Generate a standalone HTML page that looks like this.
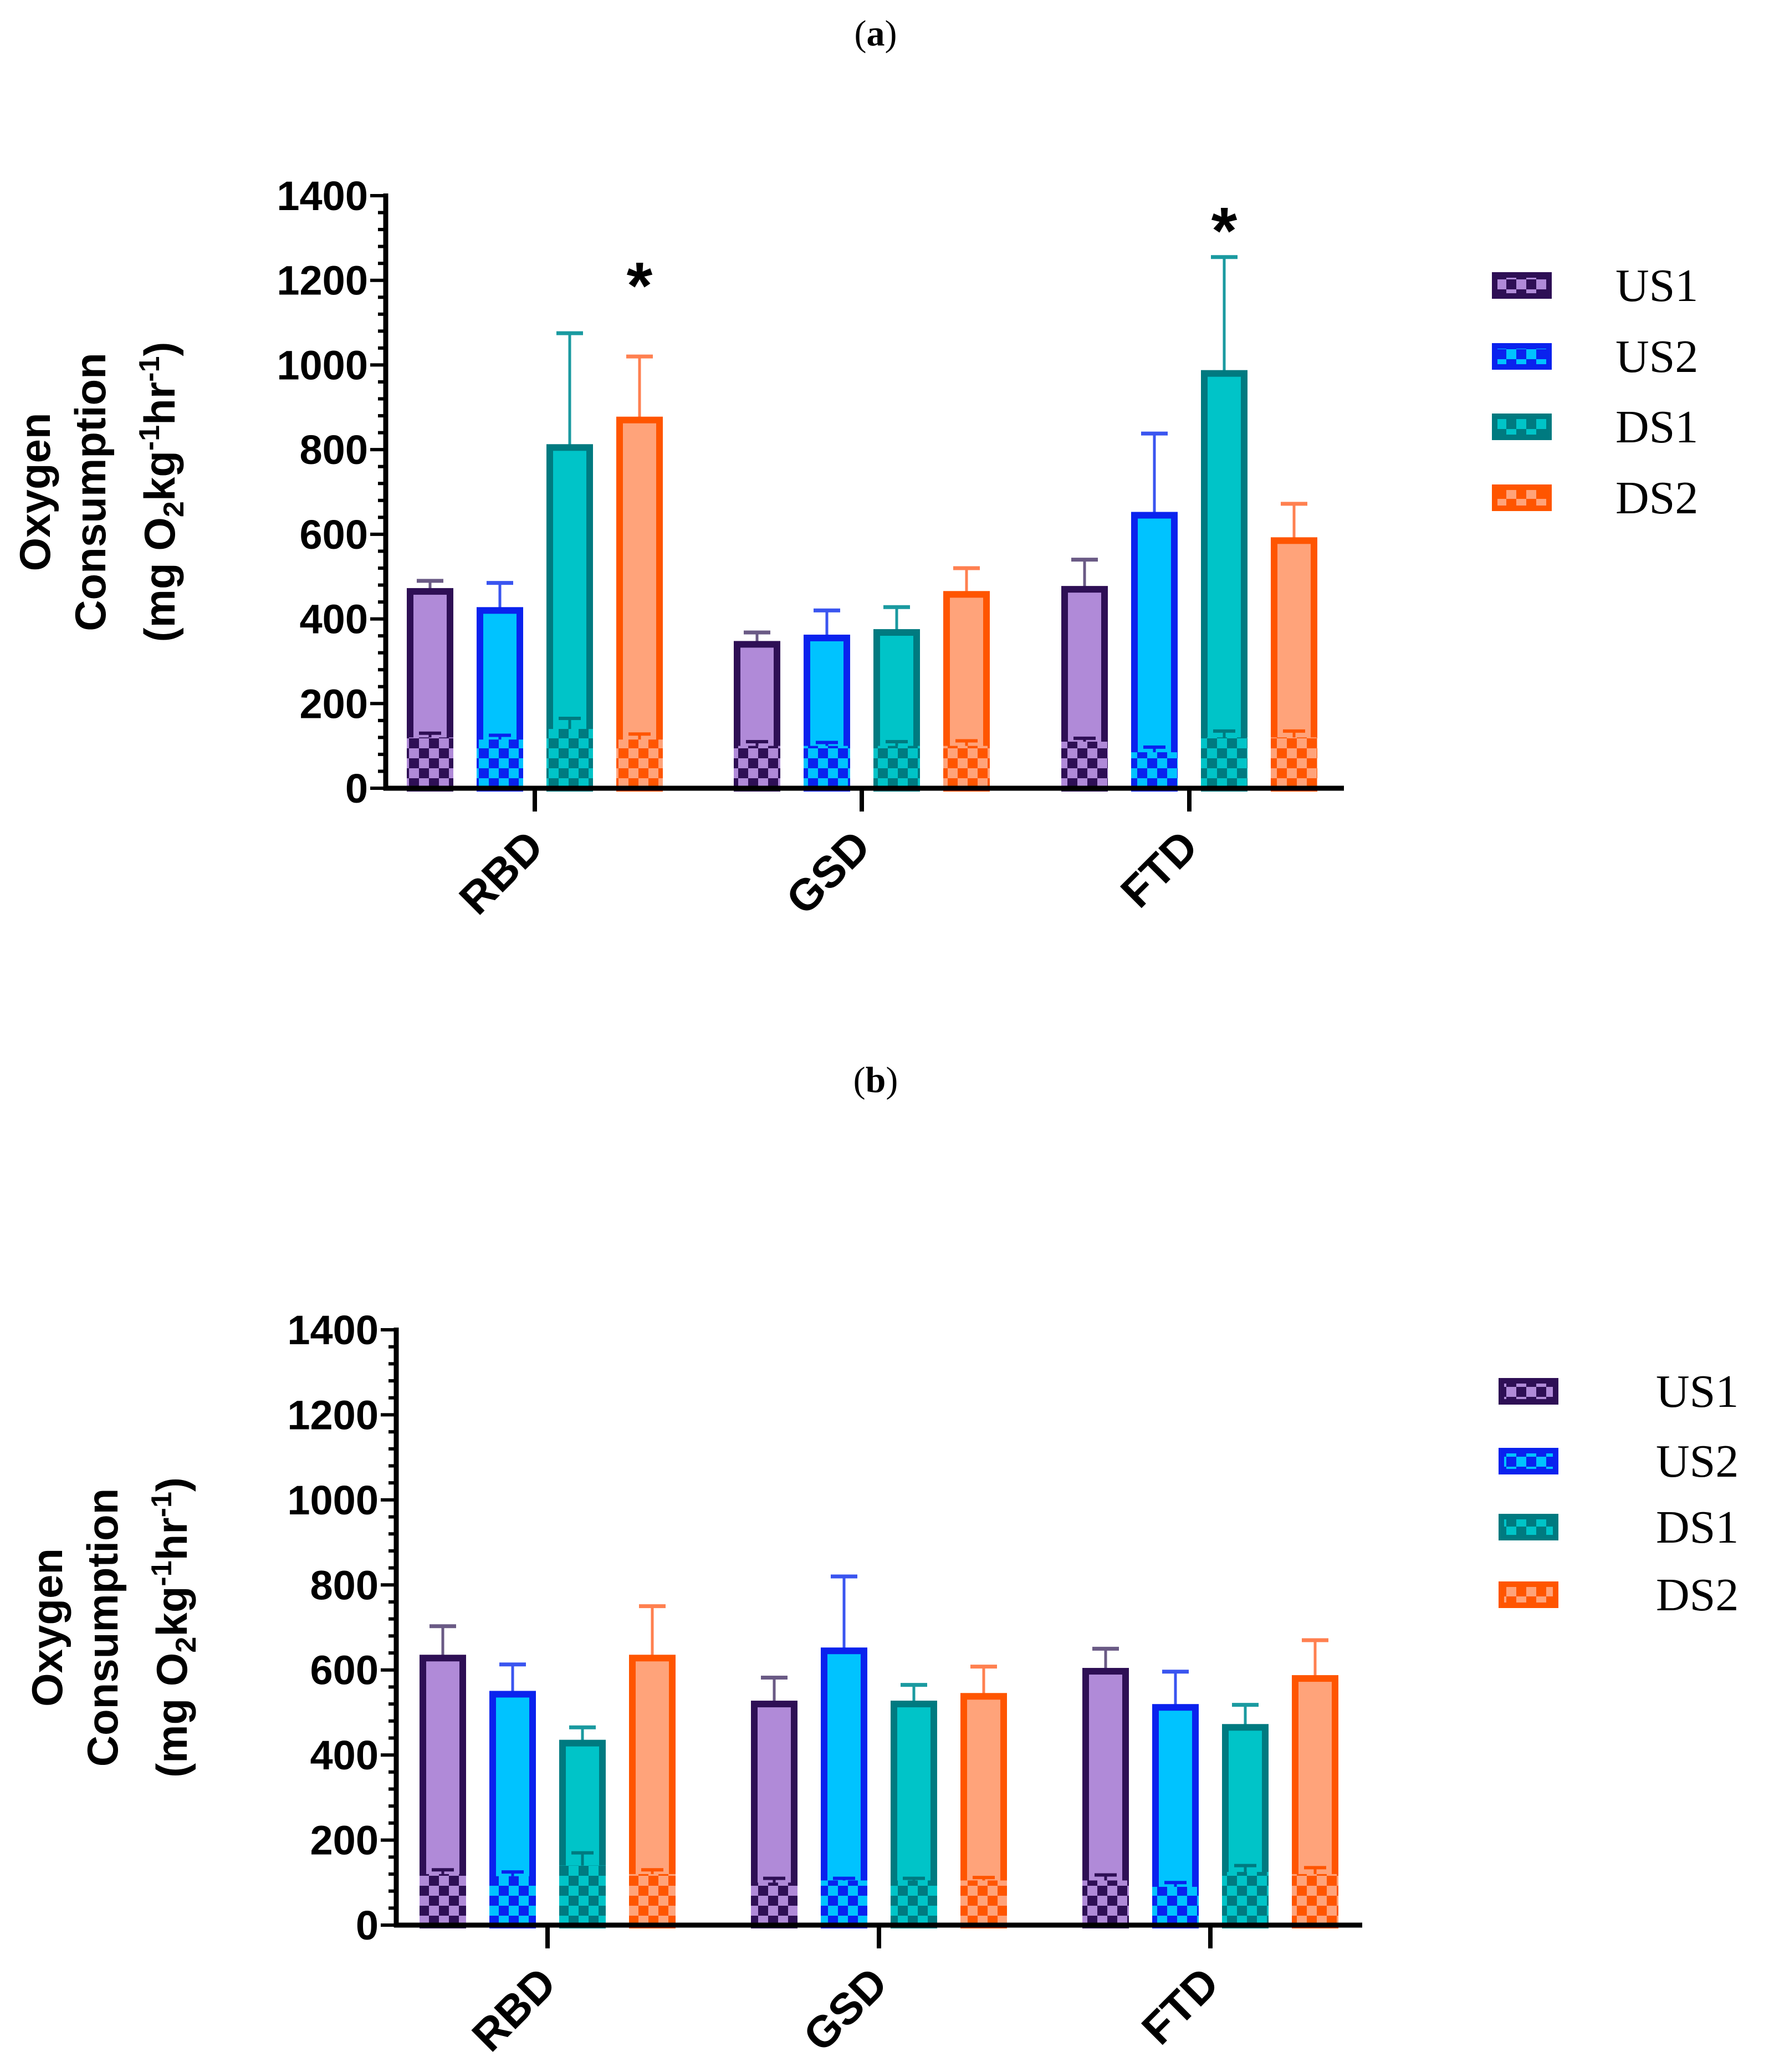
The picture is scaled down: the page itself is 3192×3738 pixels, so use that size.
<!DOCTYPE html>
<html><head><meta charset="utf-8"><style>
html,body{margin:0;padding:0;background:#fff;}
svg{display:block;}
</style></head><body>
<svg id="chart" width="3192" height="3738" viewBox="0 0 3192 3738" xmlns="http://www.w3.org/2000/svg">
<defs>
<pattern id="chk0" width="36" height="36" patternUnits="userSpaceOnUse"><rect width="36" height="36" fill="#2e0f55"/><rect width="18" height="18" fill="#b08ad8"/><rect x="18" y="18" width="18" height="18" fill="#b08ad8"/></pattern>
<pattern id="chk1" width="36" height="36" patternUnits="userSpaceOnUse"><rect width="36" height="36" fill="#0a22ee"/><rect width="18" height="18" fill="#00c3ff"/><rect x="18" y="18" width="18" height="18" fill="#00c3ff"/></pattern>
<pattern id="chk2" width="36" height="36" patternUnits="userSpaceOnUse"><rect width="36" height="36" fill="#007a80"/><rect width="18" height="18" fill="#00c4c8"/><rect x="18" y="18" width="18" height="18" fill="#00c4c8"/></pattern>
<pattern id="chk3" width="36" height="36" patternUnits="userSpaceOnUse"><rect width="36" height="36" fill="#ff5500"/><rect width="18" height="18" fill="#ffa37a"/><rect x="18" y="18" width="18" height="18" fill="#ffa37a"/></pattern>
</defs>
<text x="1580" y="82" text-anchor="middle" font-family="Liberation Serif, serif" font-size="66">(<tspan font-weight="bold">a</tspan>)</text>
<text x="1580" y="1970" text-anchor="middle" font-family="Liberation Serif, serif" font-size="66">(<tspan font-weight="bold">b</tspan>)</text>
</svg>
<script>
const categories = ["RBD","GSD","FTD"];
const series = ["US1","US2","DS1","DS2"];
const yTicks = [0,200,400,600,800,1000,1200,1400];
// Panel a
const aMeans = [[465,340,470],[420,355,645],[805,368,980],[870,458,585]];
const aErr   = [[490,368,540],[485,420,838],[1075,428,1255],[1020,520,672]];
const aLow   = [[120,100,110],[115,100,85],[140,100,120],[115,100,120]];
const aLowErr= [[130,110,118],[125,108,97],[165,110,135],[128,112,135]];
const aStars = [[0,0,0],[0,0,0],[0,0,1355],[1225,0,0]];
// Panel b
const bMeans = [[628,520,597],[543,645,512],[428,520,465],[628,538,580]];
const bErr   = [[703,582,650],[613,820,596],[465,565,518],[750,608,670]];
const bLow   = [[120,100,105],[115,105,90],[140,105,125],[120,105,120]];
const bLowErr= [[130,110,118],[125,110,100],[170,110,140],[130,112,135]];
const bStars = [[0,0,0],[0,0,0],[0,0,0],[0,0,0]];

const dark = ["#2e0f55","#0a22ee","#007a80","#ff5500"];
const light = ["#b08ad8","#00c3ff","#00c4c8","#ffa37a"];
const errCol = ["#6a5a85","#3a55f0","#1a9aa0","#ff8050"];
const NS="http://www.w3.org/2000/svg";
const svg=document.getElementById('chart');
function mk(tag,attrs,parent){const e=document.createElementNS(NS,tag);for(const k in attrs)e.setAttribute(k,attrs[k]);(parent||svg).appendChild(e);return e;}

function panel(p){
  const g=mk('g',{});
  
  
  const y=v=>p.y0-(v/1400)*(p.y0-p.y1400);
  const x=(ci,si)=>p.cx[ci]+(si-1.5)*p.step;
  series.forEach((s,si)=>{
    categories.forEach((c,ci)=>{
      const bx=x(ci,si)-p.bw/2, m=p.means[si][ci], lo=p.low[si][ci];
      const el=mk('line',{x1:x(ci,si),x2:x(ci,si),y1:y(m),y2:y(p.err[si][ci]),stroke:errCol[si],'stroke-width':5},g);
      
      
      mk('line',{x1:x(ci,si)-24,x2:x(ci,si)+24,y1:y(p.err[si][ci]),y2:y(p.err[si][ci]),stroke:errCol[si],'stroke-width':7},g);
      const r=mk('rect',{x:bx,y:y(m),width:p.bw,height:y(0)-y(m),fill:light[si],stroke:dark[si],'stroke-width':12},g);
      
      
      const lr=mk('rect',{x:bx-6,y:y(lo),width:p.bw+12,height:y(0)-y(lo),fill:'url(#chk'+si+')'},g);
      
      
      mk('line',{x1:x(ci,si),x2:x(ci,si),y1:y(lo),y2:y(p.lowErr[si][ci]),stroke:dark[si],'stroke-width':5},g);
      mk('line',{x1:x(ci,si)-20,x2:x(ci,si)+20,y1:y(p.lowErr[si][ci]),y2:y(p.lowErr[si][ci]),stroke:dark[si],'stroke-width':6},g);
      if(p.stars[si][ci]){
        const st=mk('text',{x:x(ci,si),y:y(p.stars[si][ci])+70,'text-anchor':'middle','font-family':'Liberation Sans, sans-serif','font-size':120,'font-weight':'bold'},g);
        st.textContent='*';
        
        
      }
    });
  });
  const ya=mk('line',{x1:p.ax,x2:p.ax,y1:p.y1400-4,y2:p.y0+4,stroke:'#000','stroke-width':9},g);
  
  
  const xa=mk('line',{x1:p.ax-4,x2:p.xend,y1:p.y0,y2:p.y0,stroke:'#000','stroke-width':9},g);
  
  
  for(let v=0;v<=1400;v+=40){
    mk('line',{x1:p.ax-(v%200===0?28:14),x2:p.ax,y1:y(v),y2:y(v),stroke:'#000','stroke-width':6},g);
  }
  yTicks.forEach(v=>{
    const t=mk('text',{x:p.ax-32,y:y(v)+26,'text-anchor':'end','font-family':'Liberation Sans, sans-serif','font-size':74,'font-weight':'bold'},g);
    t.textContent=v;
    
    
  });
  categories.forEach((c,ci)=>{
    mk('line',{x1:p.cx[ci],x2:p.cx[ci],y1:p.y0,y2:p.y0+42,stroke:'#000','stroke-width':8},g);
    const tx=p.cx[ci]+20, ty=p.y0+110;
    const t=mk('text',{x:tx,y:ty,'text-anchor':'end','font-family':'Liberation Sans, sans-serif','font-size':80,'font-weight':'bold',transform:`rotate(-45 ${tx} ${ty})`},g);
    t.textContent=c;
    
    
  });
  const lines=["Oxygen","Consumption",null];
  const cy=(p.y0+p.y1400)/2;
  const lx=p.titleX;
  [0,1,2].forEach(i=>{
    const t=mk('text',{x:lx[i],y:cy,'text-anchor':'middle','font-family':'Liberation Sans, sans-serif','font-size':78,'font-weight':'bold',transform:`rotate(-90 ${lx[i]} ${cy})`},g);
    if(i<2)t.textContent=lines[i];
    else t.innerHTML='(mg O<tspan font-size="52" dy="16">2</tspan><tspan dy="-16">kg</tspan><tspan font-size="52" dy="-28">-1</tspan><tspan dy="28">hr</tspan><tspan font-size="52" dy="-28">-1</tspan><tspan dy="28">)</tspan>';
    
    
  });
  series.forEach((s,si)=>{
    const ly=p.legY[si];
    const lg=mk('g',{},g);
    
    
    mk('rect',{x:p.legX,y:ly-24,width:108,height:48,fill:dark[si]},lg);
    mk('rect',{x:p.legX+10,y:ly-14,width:88,height:28,fill:'url(#chk'+si+')'},lg);
    const t=mk('text',{x:p.legTX,y:ly+28,'font-family':'Liberation Serif, serif','font-size':84},lg);
    t.textContent=s;
  });
}
panel({name:'panel-a',means:aMeans,err:aErr,low:aLow,lowErr:aLowErr,stars:aStars,
  ax:696,y0:1422,y1400:353,xend:2425,cx:[965,1555,2146],step:126,bw:72,
  titleX:[90,190,315],legX:2692,legTX:2915,legY:[515,643,770,898]});
panel({name:'panel-b',means:bMeans,err:bErr,low:bLow,lowErr:bLowErr,stars:bStars,
  ax:715,y0:3473,y1400:2399,xend:2458,cx:[988,1586,2184],step:126,bw:72,
  titleX:[112,212,337],legX:2704,legTX:2988,legY:[2510,2636,2755,2877]});
</script>
</body></html>
